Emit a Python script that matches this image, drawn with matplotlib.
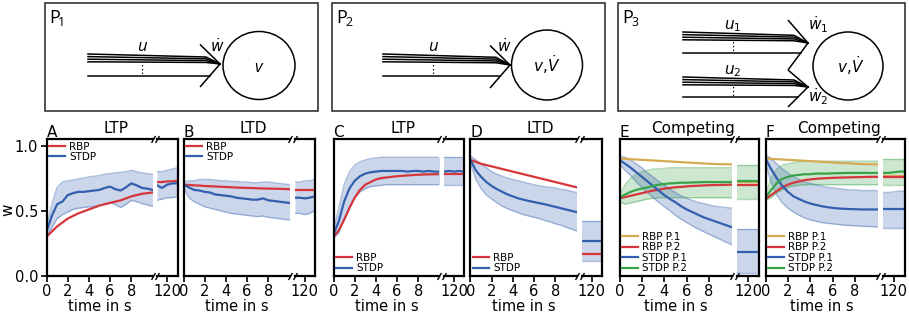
import numpy as np
import matplotlib.pyplot as plt
from matplotlib.patches import Rectangle, Ellipse

W, H = 909, 314

RED = '#d6363b'
BLUE = '#335fae'
GOLD = '#d4ab54'
GREEN = '#3aa249'

# time axis of the first 10 s, and of the late window around 120 s
t = np.arange(0, 10.01, 0.5)
t_late = [119, 119.5, 120, 120.5, 121]

# ---- A: P1, LTP
a_rbp = [0.30, 0.34, 0.38, 0.41, 0.44, 0.46, 0.48, 0.495, 0.51, 0.525, 0.54,
         0.55, 0.56, 0.57, 0.58, 0.595, 0.61, 0.62, 0.63, 0.635, 0.64]
a_stdp = [0.34, 0.46, 0.55, 0.57, 0.62, 0.635, 0.645, 0.645, 0.65, 0.655, 0.66,
          0.675, 0.685, 0.665, 0.655, 0.68, 0.71, 0.695, 0.675, 0.67, 0.66]
a_hi = [0.37, 0.55, 0.68, 0.72, 0.73, 0.735, 0.745, 0.75, 0.76, 0.765, 0.77,
        0.78, 0.785, 0.79, 0.795, 0.80, 0.81, 0.80, 0.79, 0.785, 0.78]
a_lo = [0.30, 0.37, 0.44, 0.47, 0.49, 0.51, 0.52, 0.525, 0.53, 0.535, 0.54,
        0.55, 0.565, 0.545, 0.525, 0.55, 0.58, 0.57, 0.555, 0.545, 0.535]
a_rbp_late = [0.72, 0.72, 0.725, 0.725, 0.73]
a_stdp_late = [0.695, 0.675, 0.70, 0.71, 0.71]
a_hi_late = [0.80, 0.80, 0.81, 0.82, 0.83]
a_lo_late = [0.58, 0.59, 0.60, 0.60, 0.61]

# ---- B: P1, LTD
b_rbp = [0.70, 0.698, 0.695, 0.693, 0.69, 0.688, 0.686, 0.684, 0.682, 0.68, 0.678,
         0.676, 0.675, 0.674, 0.672, 0.671, 0.67, 0.669, 0.668, 0.667, 0.665]
b_stdp = [0.70, 0.68, 0.66, 0.655, 0.645, 0.64, 0.625, 0.62, 0.615, 0.61, 0.60,
          0.595, 0.59, 0.585, 0.585, 0.595, 0.58, 0.575, 0.57, 0.565, 0.56]
b_hi = [0.72, 0.73, 0.73, 0.74, 0.74, 0.74, 0.735, 0.73, 0.73, 0.725, 0.725,
        0.72, 0.72, 0.715, 0.715, 0.72, 0.72, 0.715, 0.71, 0.705, 0.70]
b_lo = [0.68, 0.60, 0.57, 0.55, 0.53, 0.52, 0.51, 0.50, 0.49, 0.48, 0.475,
        0.47, 0.465, 0.46, 0.455, 0.46, 0.45, 0.445, 0.44, 0.435, 0.43]
b_rbp_late = [0.66, 0.66, 0.66, 0.66, 0.66]
b_stdp_late = [0.60, 0.60, 0.595, 0.60, 0.61]
b_hi_late = [0.72, 0.72, 0.73, 0.73, 0.74]
b_lo_late = [0.48, 0.48, 0.47, 0.48, 0.50]

# ---- C: P2, LTP
c_rbp = [0.30, 0.35, 0.43, 0.52, 0.60, 0.66, 0.70, 0.72, 0.74, 0.75, 0.755,
         0.76, 0.765, 0.768, 0.771, 0.774, 0.776, 0.778, 0.779, 0.78, 0.78]
c_stdp = [0.32, 0.42, 0.57, 0.67, 0.73, 0.765, 0.785, 0.795, 0.80, 0.805, 0.805,
          0.805, 0.805, 0.805, 0.80, 0.805, 0.805, 0.80, 0.805, 0.80, 0.80]
c_hi = [0.35, 0.52, 0.70, 0.80, 0.85, 0.875, 0.89, 0.90, 0.905, 0.91, 0.91,
        0.91, 0.91, 0.91, 0.91, 0.91, 0.91, 0.91, 0.91, 0.91, 0.91]
c_lo = [0.29, 0.33, 0.44, 0.53, 0.60, 0.645, 0.67, 0.685, 0.69, 0.695, 0.70,
        0.70, 0.70, 0.70, 0.70, 0.70, 0.70, 0.70, 0.70, 0.70, 0.70]
c_rbp_late = [0.78, 0.78, 0.78, 0.78, 0.78]
c_stdp_late = [0.80, 0.805, 0.80, 0.805, 0.80]
c_hi_late = [0.91, 0.91, 0.91, 0.91, 0.91]
c_lo_late = [0.70, 0.70, 0.70, 0.70, 0.70]

# ---- D: P2, LTD
d_rbp = [0.89, 0.875, 0.86, 0.85, 0.84, 0.83, 0.82, 0.81, 0.80, 0.79, 0.78,
         0.77, 0.76, 0.75, 0.74, 0.73, 0.72, 0.71, 0.70, 0.69, 0.68]
d_stdp = [0.89, 0.81, 0.76, 0.72, 0.69, 0.665, 0.645, 0.625, 0.61, 0.595, 0.585,
          0.575, 0.567, 0.558, 0.55, 0.54, 0.53, 0.52, 0.51, 0.50, 0.49]
d_hi = [0.92, 0.89, 0.86, 0.83, 0.80, 0.78, 0.765, 0.75, 0.74, 0.73, 0.72,
        0.71, 0.70, 0.69, 0.685, 0.68, 0.675, 0.665, 0.66, 0.65, 0.64]
d_lo = [0.86, 0.74, 0.67, 0.62, 0.59, 0.56, 0.535, 0.515, 0.50, 0.485, 0.47,
        0.46, 0.45, 0.44, 0.425, 0.415, 0.40, 0.39, 0.375, 0.36, 0.345]
d_rbp_late = [0.17, 0.17, 0.17, 0.17, 0.17]
d_stdp_late = [0.27, 0.27, 0.27, 0.27, 0.27]
d_hi_late = [0.42, 0.42, 0.42, 0.42, 0.42]
d_lo_late = [0.115, 0.115, 0.115, 0.115, 0.115]

# ---- E: P3, competing
e_rbp1 = [0.90, 0.898, 0.895, 0.893, 0.89, 0.888, 0.885, 0.883, 0.88, 0.878, 0.875,
          0.873, 0.87, 0.868, 0.865, 0.863, 0.86, 0.858, 0.857, 0.856, 0.855]
e_rbp2 = [0.595, 0.605, 0.615, 0.625, 0.635, 0.645, 0.655, 0.66, 0.67, 0.675, 0.68,
          0.683, 0.687, 0.69, 0.692, 0.694, 0.696, 0.697, 0.698, 0.699, 0.70]
e_stdp1 = [0.89, 0.86, 0.83, 0.795, 0.76, 0.725, 0.69, 0.655, 0.62, 0.59, 0.565,
           0.535, 0.51, 0.49, 0.47, 0.45, 0.435, 0.42, 0.405, 0.39, 0.375]
e_stdp1_hi = [0.92, 0.91, 0.89, 0.86, 0.83, 0.79, 0.76, 0.725, 0.70, 0.665, 0.64,
              0.615, 0.595, 0.58, 0.565, 0.555, 0.545, 0.535, 0.53, 0.525, 0.52]
e_stdp1_lo = [0.86, 0.81, 0.77, 0.72, 0.68, 0.64, 0.60, 0.565, 0.53, 0.50, 0.465,
              0.435, 0.41, 0.385, 0.36, 0.34, 0.32, 0.30, 0.28, 0.26, 0.24]
e_stdp2 = [0.60, 0.625, 0.645, 0.66, 0.67, 0.68, 0.69, 0.70, 0.705, 0.71, 0.712,
           0.715, 0.715, 0.717, 0.718, 0.72, 0.72, 0.72, 0.72, 0.72, 0.72]
e_stdp2_hi = [0.62, 0.70, 0.75, 0.78, 0.80, 0.81, 0.82, 0.82, 0.825, 0.83, 0.83,
              0.83, 0.83, 0.83, 0.83, 0.83, 0.83, 0.83, 0.83, 0.83, 0.83]
e_stdp2_lo = [0.57, 0.55, 0.56, 0.57, 0.58, 0.59, 0.595, 0.60, 0.60, 0.60, 0.60,
              0.60, 0.60, 0.60, 0.60, 0.60, 0.60, 0.60, 0.60, 0.60, 0.60]
e_rbp1_late = [0.72, 0.72, 0.72, 0.72, 0.72]
e_rbp2_late = [0.70, 0.70, 0.70, 0.70, 0.70]
e_stdp1_late = [0.185, 0.185, 0.185, 0.185, 0.185]
e_stdp1_hi_late = [0.36, 0.36, 0.36, 0.36, 0.36]
e_stdp1_lo_late = [0.02, 0.02, 0.02, 0.02, 0.02]
e_stdp2_late = [0.73, 0.73, 0.73, 0.73, 0.73]
e_stdp2_hi_late = [0.85, 0.85, 0.85, 0.85, 0.85]
e_stdp2_lo_late = [0.59, 0.59, 0.59, 0.59, 0.59]

# ---- F: P3, competing
f_rbp1 = [0.90, 0.898, 0.895, 0.893, 0.89, 0.888, 0.885, 0.883, 0.88, 0.878, 0.875,
          0.873, 0.87, 0.868, 0.865, 0.863, 0.86, 0.858, 0.857, 0.856, 0.855]
f_rbp2 = [0.59, 0.62, 0.65, 0.68, 0.70, 0.715, 0.725, 0.735, 0.74, 0.745, 0.748,
          0.75, 0.752, 0.754, 0.755, 0.756, 0.757, 0.758, 0.759, 0.76, 0.76]
f_stdp1 = [0.90, 0.82, 0.75, 0.69, 0.645, 0.61, 0.59, 0.57, 0.555, 0.545, 0.535,
           0.528, 0.522, 0.518, 0.515, 0.513, 0.512, 0.51, 0.51, 0.51, 0.51]
f_stdp1_hi = [0.93, 0.90, 0.86, 0.82, 0.79, 0.76, 0.74, 0.72, 0.71, 0.70, 0.69,
              0.68, 0.675, 0.67, 0.665, 0.66, 0.66, 0.655, 0.655, 0.655, 0.655]
f_stdp1_lo = [0.86, 0.72, 0.62, 0.56, 0.52, 0.49, 0.465, 0.445, 0.43, 0.42, 0.41,
              0.405, 0.40, 0.395, 0.39, 0.387, 0.385, 0.382, 0.38, 0.378, 0.376]
f_stdp2 = [0.60, 0.66, 0.71, 0.745, 0.76, 0.77, 0.775, 0.78, 0.78, 0.785, 0.785,
           0.785, 0.787, 0.788, 0.789, 0.79, 0.79, 0.79, 0.79, 0.79, 0.79]
f_stdp2_hi = [0.62, 0.75, 0.82, 0.85, 0.86, 0.87, 0.875, 0.88, 0.88, 0.88, 0.88,
              0.88, 0.88, 0.88, 0.88, 0.88, 0.88, 0.88, 0.88, 0.88, 0.88]
f_stdp2_lo = [0.58, 0.60, 0.64, 0.66, 0.68, 0.69, 0.695, 0.70, 0.70, 0.70, 0.70,
              0.70, 0.70, 0.70, 0.70, 0.70, 0.70, 0.70, 0.70, 0.70, 0.70]
f_rbp1_late = [0.765, 0.765, 0.765, 0.765, 0.765]
f_rbp2_late = [0.755, 0.755, 0.755, 0.755, 0.755]
f_stdp1_late = [0.51, 0.51, 0.51, 0.51, 0.51]
f_stdp1_hi_late = [0.64, 0.64, 0.645, 0.65, 0.65]
f_stdp1_lo_late = [0.37, 0.37, 0.37, 0.37, 0.37]
f_stdp2_late = [0.79, 0.79, 0.795, 0.80, 0.80]
f_stdp2_hi_late = [0.90, 0.90, 0.90, 0.90, 0.90]
f_stdp2_lo_late = [0.70, 0.70, 0.70, 0.70, 0.70]

plt.rcParams['font.family'] = 'DejaVu Sans'
fig = plt.figure(figsize=(W / 100, H / 100), dpi=100)

# ---------------- schematic panels (pixel coordinates) ----------------
dr = fig.add_axes([0, 0, 1, 1])
dr.set_xlim(0, W)
dr.set_ylim(H, 0)
dr.axis('off')
LW = 1.1
TXT = dict(family='Open Sans', color='k')


def box(x0, x1, sub):
    dr.add_patch(Rectangle((x0, 3), x1 - x0, 108, fill=False, lw=1.1, ec='#222222'))
    dr.text(x0 + 4, 23, 'P', fontsize=13, va='baseline', **TXT)
    dr.text(x0 + 13, 26, sub, fontsize=9, va='baseline', **TXT)


def bundle(x0, tip_x, tip_y, y_top, y_low, arm=20, spread=23, label='u', lx=None):
    # chevron arrowhead
    dr.plot([tip_x - arm, tip_x, tip_x - arm], [tip_y - spread * 0.85, tip_y, tip_y + spread],
            color='k', lw=LW, solid_capstyle='butt')
    # four closely packed fibres that run into the tip
    for k in range(4):
        yk = y_top + 2.6 * k
        dr.plot([x0, tip_x - 14, tip_x], [yk, yk + 0.3 * (tip_y - yk), tip_y], color='k', lw=LW)
    xl = tip_x - arm * (y_low - tip_y) / spread
    dr.plot([x0, xl], [y_low, y_low], color='k', lw=LW)
    xm = (x0 + tip_x) / 2 if lx is None else lx
    if label:
        dr.text(xm, y_top - 3, label, fontsize=12, style='italic', ha='center', va='baseline', **TXT)
    dr.text(xm, (y_top + 7.8 + y_low) / 2 + 1, '\u22ee', fontsize=8, ha='center', va='center', color='k')


box(45, 318, '1')
bundle(88, 220, 64, 54, 76, lx=142)
dr.text(217, 52, r'$\dot{w}$', fontsize=11, ha='center', va='baseline')
dr.add_patch(Ellipse((259, 65.5), 72, 68, fill=False, lw=LW, ec='k'))
dr.text(258, 72, 'v', fontsize=12, style='italic', ha='center', va='baseline', **TXT)

box(332, 605, '2')
bundle(383, 510, 65, 54, 76, lx=433)
dr.text(504, 52, r'$\dot{w}$', fontsize=11, ha='center', va='baseline')
dr.add_patch(Ellipse((547, 65), 71, 70, fill=False, lw=LW, ec='k'))
dr.text(547, 72, r'$v,\!\dot{V}$', fontsize=11, ha='center', va='baseline')

box(618, 905, '3')
bundle(683, 808, 43, 32, 53, spread=27, lx=733, label='')
bundle(683, 808, 87, 77, 97, spread=20, lx=733, label='')
dr.text(733, 29, r'$u_1$', fontsize=11, ha='center', va='baseline')
dr.text(733, 74, r'$u_2$', fontsize=11, ha='center', va='baseline')
dr.text(818, 30, r'$\dot{w}_1$', fontsize=11, ha='center', va='baseline')
dr.text(818, 102, r'$\dot{w}_2$', fontsize=11, ha='center', va='baseline')
dr.add_patch(Ellipse((848, 66), 70, 68, fill=False, lw=LW, ec='k'))
dr.text(851, 73, r'$v,\!\dot{V}$', fontsize=11, ha='center', va='baseline')


# ---------------- broken-axis data panels ----------------
def px_axes(x0, x1, y0=139, y1=276):
    return fig.add_axes([x0 / W, 1 - y1 / H, (x1 - x0) / W, (y1 - y0) / H])


def broken_pair(xm, xs, letter, title, first=False):
    ax = px_axes(*xm)
    axs = px_axes(*xs)
    for a in (ax, axs):
        a.set_ylim(0, 1.05)
        for s in a.spines.values():
            s.set_linewidth(1.6)
        a.tick_params(direction='out', length=4, width=1.2, labelsize=10.5, pad=2)
    ax.set_xlim(0, 10)
    axs.set_xlim(119, 121)
    ax.spines['right'].set_visible(False)
    axs.spines['left'].set_visible(False)
    ax.set_xticks([0, 2, 4, 6, 8])
    axs.set_xticks([120])
    axs.set_yticks([])
    if first:
        ax.set_yticks([0, 0.5, 1.0])
        ax.set_yticklabels(['0.0', '0.5', '1.0'])
    else:
        ax.set_yticks([])
    ax.set_xlabel('time in s', fontsize=10.5, labelpad=0)
    kw = dict(marker=[(-1, -1.8), (1, 1.8)], markersize=5, linestyle='none',
              color='k', mec='k', mew=1, clip_on=False)
    ax.plot([1, 1], [0, 1], transform=ax.transAxes, **kw)
    axs.plot([0, 0], [0, 1], transform=axs.transAxes, **kw)
    fig.text(xm[0] / W, 1 - 137 / H, letter, fontsize=11, va='baseline', ha='left')
    fig.text((xm[0] + xs[1]) / 2 / W + 4 / W, 1 - 133 / H, title, fontsize=11,
             va='baseline', ha='center')
    return ax, axs


def band(ax, x, lo, hi, color):
    ax.fill_between(x, lo, hi, color=color, alpha=0.25, lw=0)
    ax.plot(x, lo, color=color, alpha=0.4, lw=1)
    ax.plot(x, hi, color=color, alpha=0.4, lw=1)


def legend(ax, loc):
    ax.legend(loc=loc, frameon=False, fontsize=7.5, handlelength=1.5,
              handletextpad=0.4, labelspacing=0.05, borderpad=0.1, borderaxespad=0.15)


def two_curves(pair, rbp, stdp, lo, hi, rbp_l, stdp_l, lo_l, hi_l, loc):
    ax, axs = pair
    band(ax, t, lo, hi, BLUE)
    band(axs, t_late, lo_l, hi_l, BLUE)
    ax.plot(t, rbp, color=RED, lw=1.6, label='RBP')
    ax.plot(t, stdp, color=BLUE, lw=1.6, label='STDP')
    axs.plot(t_late, rbp_l, color=RED, lw=1.6)
    axs.plot(t_late, stdp_l, color=BLUE, lw=1.6)
    legend(ax, loc)


pA = broken_pair((46.5, 152.5), (157, 177.5), 'A', 'LTP', first=True)
two_curves(pA, a_rbp, a_stdp, a_lo, a_hi, a_rbp_late, a_stdp_late, a_lo_late, a_hi_late, 'upper left')
pB = broken_pair((183.5, 289.5), (295, 314.5), 'B', 'LTD')
two_curves(pB, b_rbp, b_stdp, b_lo, b_hi, b_rbp_late, b_stdp_late, b_lo_late, b_hi_late, 'upper left')
pC = broken_pair((333.5, 439.5), (444, 464), 'C', 'LTP')
two_curves(pC, c_rbp, c_stdp, c_lo, c_hi, c_rbp_late, c_stdp_late, c_lo_late, c_hi_late, 'lower left')
pD = broken_pair((470.5, 576.5), (582, 601.5), 'D', 'LTD')
two_curves(pD, d_rbp, d_stdp, d_lo, d_hi, d_rbp_late, d_stdp_late, d_lo_late, d_hi_late, 'lower left')


def four_curves(pair, r1, r2, s1, s1lo, s1hi, s2, s2lo, s2hi,
                r1l, r2l, s1l, s1lol, s1hil, s2l, s2lol, s2hil):
    ax, axs = pair
    band(ax, t, s2lo, s2hi, GREEN)
    band(ax, t, s1lo, s1hi, BLUE)
    band(axs, t_late, s2lol, s2hil, GREEN)
    band(axs, t_late, s1lol, s1hil, BLUE)
    ax.plot(t, r1, color=GOLD, lw=1.6, label='RBP P.1')
    ax.plot(t, r2, color=RED, lw=1.6, label='RBP P.2')
    ax.plot(t, s1, color=BLUE, lw=1.6, label='STDP P.1')
    ax.plot(t, s2, color=GREEN, lw=1.6, label='STDP P.2')
    axs.plot(t_late, r1l, color=GOLD, lw=1.6)
    axs.plot(t_late, r2l, color=RED, lw=1.6)
    axs.plot(t_late, s1l, color=BLUE, lw=1.6)
    axs.plot(t_late, s2l, color=GREEN, lw=1.6)
    legend(ax, 'lower left')


pE = broken_pair((619.5, 731.5), (737, 759), 'E', 'Competing')
four_curves(pE, e_rbp1, e_rbp2, e_stdp1, e_stdp1_lo, e_stdp1_hi, e_stdp2, e_stdp2_lo, e_stdp2_hi,
            e_rbp1_late, e_rbp2_late, e_stdp1_late, e_stdp1_lo_late, e_stdp1_hi_late,
            e_stdp2_late, e_stdp2_lo_late, e_stdp2_hi_late)
pF = broken_pair((765.5, 877.5), (882.5, 905), 'F', 'Competing')
four_curves(pF, f_rbp1, f_rbp2, f_stdp1, f_stdp1_lo, f_stdp1_hi, f_stdp2, f_stdp2_lo, f_stdp2_hi,
            f_rbp1_late, f_rbp2_late, f_stdp1_late, f_stdp1_lo_late, f_stdp1_hi_late,
            f_stdp2_late, f_stdp2_lo_late, f_stdp2_hi_late)

fig.text(8 / W, 1 - 210 / H, 'w', fontsize=11, rotation=90, ha='center', va='center')

fig.savefig('out.png', dpi=100)
